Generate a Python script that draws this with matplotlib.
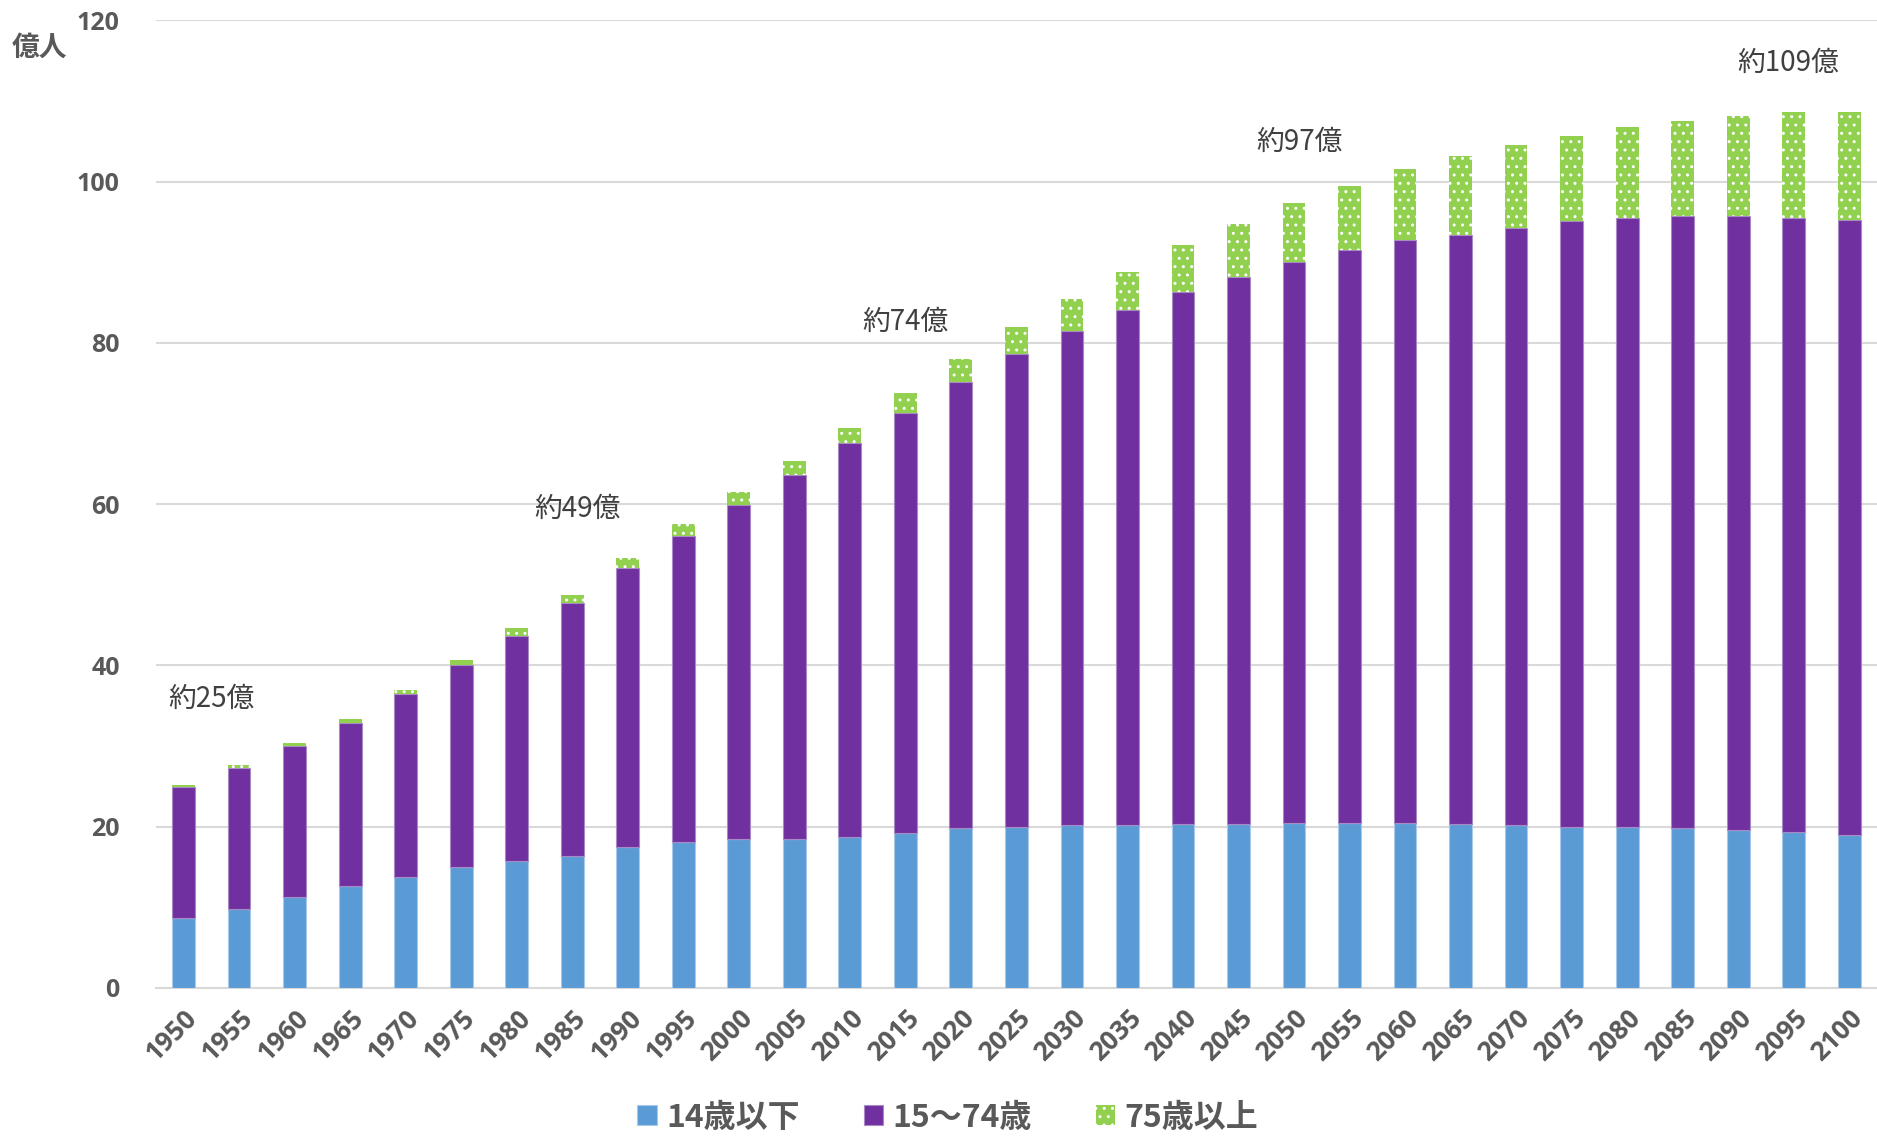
import matplotlib
matplotlib.use("Agg")
import matplotlib.pyplot as plt
import numpy as np

plt.rcParams['font.family'] = ['Noto Sans CJK JP', 'DejaVu Sans']
plt.rcParams['hatch.linewidth'] = 1.0

years = [str(y) for y in range(1950, 2101, 5)]
age_0_14 = [8.6, 9.8, 11.3, 12.6, 13.8, 15.0, 15.7, 16.3, 17.5, 18.1, 18.4, 18.4, 18.7, 19.2, 19.8,
            20.0, 20.2, 20.2, 20.3, 20.3, 20.5, 20.5, 20.5, 20.3, 20.2, 20.0, 19.9, 19.8, 19.6, 19.3, 19.0]
total_0_74 = [24.95, 27.3, 30.0, 32.8, 36.5, 40.1, 43.7, 47.7, 52.1, 56.1, 59.9, 63.6, 67.6, 71.3, 75.2,
              78.6, 81.5, 84.1, 86.3, 88.2, 90.0, 91.5, 92.8, 93.4, 94.3, 95.1, 95.5, 95.8, 95.8, 95.5, 95.2]
total_all = [25.2, 27.6, 30.4, 33.4, 37.0, 40.7, 44.6, 48.7, 53.3, 57.5, 61.5, 65.3, 69.5, 73.8, 78.0,
             82.0, 85.5, 88.8, 92.1, 94.8, 97.3, 99.5, 101.6, 103.2, 104.6, 105.7, 106.8, 107.5, 108.1, 108.6, 108.7]
age_15_74 = [b - a for a, b in zip(age_0_14, total_0_74)]
age_75 = [c - b for b, c in zip(total_0_74, total_all)]

series_labels = ['14歳以下', '15～74歳', '75歳以上']
annotations = [('約25億', 0.5, 35.8), ('約49億', 7.1, 59.4), ('約74億', 13.0, 82.6),
               ('約97億', 20.1, 105.0), ('約109億', 28.9, 114.7)]
y_ticks = [0, 20, 40, 60, 80, 100, 120]

blue = '#5B9BD5'
purple = '#7030A0'
green = '#92D050'
gray = '#595959'

fig = plt.figure(figsize=(18.77, 11.38), dpi=100)
ax = fig.add_axes([0.083, 0.132, 0.917, 0.85])

x = np.arange(len(years))
w = 0.41
b1 = ax.bar(x, age_0_14, w, color=blue, edgecolor='#A9C9EA', linewidth=0.8, label=series_labels[0], zorder=3)
b2 = ax.bar(x, age_15_74, w, bottom=age_0_14, color=purple, edgecolor='#A88BC4', linewidth=0.8,
            label=series_labels[1], zorder=3)
b3 = ax.bar(x, age_75, w, bottom=total_0_74, color=green, edgecolor='white', linewidth=0,
            hatch='..', label=series_labels[2], zorder=3)

ax.set_xlim(-0.5, len(years) - 0.5)
ax.set_ylim(0, 120)
ax.set_yticks(y_ticks)
ax.set_yticklabels([str(v) for v in y_ticks], fontsize=18, fontweight='bold', color=gray,
                   family=['Open Sans', 'DejaVu Sans'])
ax.set_xticks(x)
ax.set_xticklabels(years, rotation=45, ha='right', rotation_mode='anchor', fontsize=19,
                   fontweight='bold', color=gray, family=['Open Sans', 'DejaVu Sans'])
ax.tick_params(axis='both', length=0)
ax.tick_params(axis='y', pad=26)
ax.tick_params(axis='x', pad=12)
ax.grid(axis='y', color='#D9D9D9', linewidth=1.5, zorder=0)
for s in ['top', 'right', 'left']:
    ax.spines[s].set_visible(False)
ax.spines['bottom'].set_color('#D9D9D9')
ax.spines['bottom'].set_linewidth(1.5)

for txt, xi, yi in annotations:
    ax.text(xi, yi, txt, ha='center', va='center', fontsize=20, color='#404040')

fig.text(0.006, 0.958, '億人', fontsize=20, fontweight='bold', color=gray, ha='left', va='center')

leg = fig.legend(handles=[b1, b2, b3], labels=series_labels, loc='center', bbox_to_anchor=(0.505, 0.018),
                 ncol=3, frameon=False, fontsize=23, handlelength=0.6, handleheight=0.6,
                 handletextpad=0.3, columnspacing=2.0)
for t in leg.get_texts():
    t.set_color(gray)
    t.set_fontweight('bold')

fig.savefig('out.png', dpi=100)
